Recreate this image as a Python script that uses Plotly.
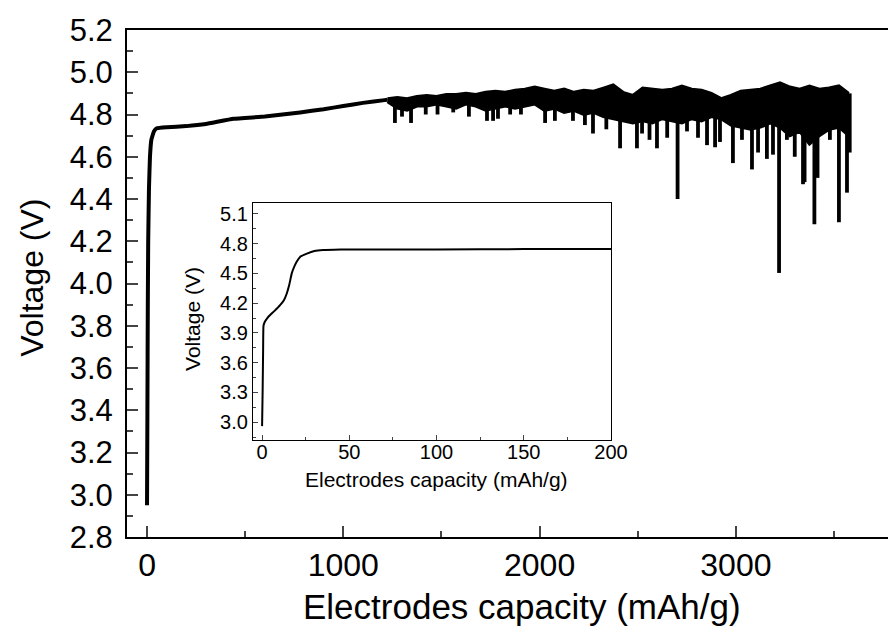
import numpy as np
import plotly.graph_objects as go

# ---------------- data ----------------
# smooth first part of the main charge curve
main_cap = [0, 2, 4, 6, 10, 15, 22, 35, 50, 100, 200, 300, 440, 600, 780, 900, 1000, 1100, 1210, 1225]
main_v = [2.95, 3.40, 3.90, 4.20, 4.45, 4.60, 4.68, 4.72, 4.735, 4.74, 4.745, 4.755, 4.78,
          4.79, 4.81, 4.825, 4.84, 4.855, 4.868, 4.87]

# noisy part: upper and lower edge of the dense band
band_cap = [1225, 1275, 1325, 1375, 1425, 1475, 1525, 1575, 1625, 1675, 1725, 1775,
            1825, 1875, 1925, 1975, 2025, 2075, 2125, 2175, 2225, 2275, 2325, 2375,
            2425, 2475, 2525, 2575, 2625, 2675, 2725, 2775, 2825, 2875, 2925, 2975,
            3025, 3075, 3125, 3175, 3225, 3275, 3325, 3375, 3425, 3475, 3525, 3575]
band_top = [4.875, 4.88, 4.875, 4.885, 4.89, 4.885, 4.895, 4.895, 4.90, 4.895, 4.905, 4.91,
            4.905, 4.915, 4.92, 4.93, 4.92, 4.91, 4.92, 4.905, 4.915, 4.91, 4.925, 4.94,
            4.905, 4.89, 4.925, 4.92, 4.915, 4.92, 4.935, 4.92, 4.915, 4.90, 4.875, 4.89,
            4.91, 4.915, 4.92, 4.935, 4.95, 4.93, 4.92, 4.935, 4.92, 4.925, 4.935, 4.90]
band_bot = [4.86, 4.83, 4.82, 4.84, 4.84, 4.85, 4.84, 4.83, 4.85, 4.84, 4.82, 4.83,
            4.84, 4.83, 4.84, 4.85, 4.82, 4.83, 4.81, 4.82, 4.80, 4.81, 4.79, 4.78,
            4.77, 4.76, 4.77, 4.76, 4.78, 4.77, 4.76, 4.78, 4.77, 4.79, 4.78, 4.75,
            4.74, 4.73, 4.74, 4.76, 4.74, 4.70, 4.72, 4.66, 4.70, 4.73, 4.74, 4.70]

# narrow downward spikes: capacity and lowest voltage
spike_cap = [1263, 1299, 1345, 1420, 1480, 1560, 1640, 1732, 1763, 1788, 1850, 1905,
             2028, 2078, 2170, 2231, 2272, 2340, 2410, 2496, 2522, 2560, 2598, 2650,
             2703, 2751, 2807, 2853, 2894, 2919, 2985, 3031, 3082, 3113, 3158, 3189,
             3220, 3260, 3300, 3342, 3350, 3400, 3416, 3479, 3525, 3566, 3580]
spike_v = [4.76, 4.79, 4.76, 4.80, 4.80, 4.81, 4.79, 4.77, 4.77, 4.78, 4.80, 4.80,
           4.76, 4.77, 4.77, 4.75, 4.71, 4.73, 4.64, 4.64, 4.71, 4.68, 4.64, 4.69,
           4.40, 4.72, 4.69, 4.655, 4.645, 4.67, 4.57, 4.68, 4.54, 4.62, 4.59, 4.61,
           4.05, 4.68, 4.60, 4.47, 4.48, 4.28, 4.50, 4.68, 4.29, 4.43, 4.62]

# inset: first 200 mAh/g
inset_cap = [0, 0.3, 0.6, 0.8, 1.5, 3, 4.6, 7, 10.3, 12.5, 14.2, 15.5, 17, 18.5,
             19.9, 22, 25.7, 30, 35, 45, 60, 100, 150, 200]
inset_v = [2.96, 3.30, 3.75, 3.97, 4.01, 4.05, 4.08, 4.12, 4.18, 4.23, 4.30, 4.38, 4.50,
           4.57, 4.62, 4.67, 4.70, 4.725, 4.735, 4.74, 4.742, 4.742, 4.745, 4.745]

main_xticks = [0, 1000, 2000, 3000]
main_yticks = [2.8, 3.0, 3.2, 3.4, 3.6, 3.8, 4.0, 4.2, 4.4, 4.6, 4.8, 5.0, 5.2]
inset_xticks = [0, 50, 100, 150, 200]
inset_yticks = [3.0, 3.3, 3.6, 3.9, 4.2, 4.5, 4.8, 5.1]

# ---------------- figure ----------------
FONT = "Liberation Sans, Arial, sans-serif"
fig = go.Figure()

fig.add_trace(go.Scatter(x=main_cap, y=main_v, mode="lines",
                         line=dict(color="black", width=4, shape="spline", smoothing=0.3),
                         showlegend=False))
fig.add_trace(go.Scatter(x=band_cap, y=band_top, mode="lines",
                         line=dict(color="black", width=3), showlegend=False))
fig.add_trace(go.Scatter(x=band_cap, y=band_bot, mode="lines", fill="tonexty",
                         fillcolor="black", line=dict(color="black", width=3),
                         showlegend=False))

sx, sy = [], []
spike_base = np.interp(spike_cap, band_cap, band_top)
for c, b, v in zip(spike_cap, spike_base, spike_v):
    sx += [c, c, None]
    sy += [b, v, None]
fig.add_trace(go.Scatter(x=sx, y=sy, mode="lines",
                         line=dict(color="black", width=3.8), showlegend=False))

fig.add_trace(go.Scatter(x=inset_cap, y=inset_v, mode="lines",
                         line=dict(color="black", width=2, shape="spline", smoothing=0.4),
                         showlegend=False, xaxis="x2", yaxis="y2"))

fig.update_layout(
    width=888, height=626, autosize=False,
    margin=dict(l=127, r=0, t=30, b=89, pad=0, autoexpand=False),
    paper_bgcolor="white", plot_bgcolor="white",
    font=dict(family=FONT, color="black"),
    xaxis=dict(range=[-102, 3775], tickvals=main_xticks, ticks="inside", automargin=False,
               ticklen=11, tickwidth=2, showline=True, linewidth=2,
               linecolor="black", mirror=True, showgrid=False, zeroline=False,
               tickfont=dict(size=32, family=FONT), ticklabelstandoff=-1,
               minor=dict(ticks="inside", ticklen=6, tickwidth=2, dtick=500,
                          tick0=0, showgrid=False)),
    yaxis=dict(range=[2.8, 5.2], tickvals=main_yticks, ticktext=[f"{v:.1f}" for v in main_yticks],
               ticks="inside", ticklen=11, tickwidth=2, showline=True, linewidth=2,
               linecolor="black", mirror=False, showgrid=False, zeroline=False,
               automargin=False,
               tickfont=dict(size=31, family=FONT), ticklabelstandoff=6,
               minor=dict(ticks="inside", ticklen=6, tickwidth=2, dtick=0.1,
                          tick0=2.8, showgrid=False)),
    xaxis2=dict(domain=[0.1656, 0.636], anchor="y2", range=[-5.2, 200],
                tickvals=inset_xticks, ticks="inside", ticklen=5, tickwidth=1,
                showline=True, linewidth=1.2, linecolor="black", mirror=True,
                showgrid=False, zeroline=False, tickfont=dict(size=20, family=FONT),
                ticklabelstandoff=-6, automargin=False,
                minor=dict(ticks="inside", ticklen=3, tickwidth=1, dtick=25,
                           tick0=0, showgrid=False)),
    yaxis2=dict(domain=[0.1913, 0.6588], anchor="x2", range=[2.82, 5.21],
                tickvals=inset_yticks, ticktext=[f"{v:.1f}" for v in inset_yticks],
                ticks="inside", ticklen=5, tickwidth=1,
                showline=True, linewidth=1.2, linecolor="black", mirror=True,
                showgrid=False, zeroline=False, tickfont=dict(size=20, family=FONT),
                ticklabelstandoff=0, automargin=False,
                minor=dict(ticks="inside", ticklen=3, tickwidth=1, dtick=0.15,
                           tick0=3.0, showgrid=False)),
    annotations=[
        dict(text="Electrodes capacity (mAh/g)", xref="paper", yref="paper",
             x=0.519, y=-0.094, xanchor="center", yanchor="top", showarrow=False,
             font=dict(size=35, family=FONT)),
        dict(text="Voltage (V)", xref="paper", yref="paper", textangle=-90,
             x=-0.125, y=0.511, xanchor="center", yanchor="middle", showarrow=False,
             font=dict(size=32, family=FONT)),
        dict(text="Electrodes capacity (mAh/g)", xref="paper", yref="paper",
             x=0.4067, y=0.14, xanchor="center", yanchor="top", showarrow=False,
             font=dict(size=21, family=FONT)),
        dict(text="Voltage (V)", xref="paper", yref="paper", textangle=-90,
             x=0.0867, y=0.43, xanchor="center", yanchor="middle", showarrow=False,
             font=dict(size=21, family=FONT)),
    ],
)

fig.write_html("out.html", config={"displayModeBar": False},
               post_script="document.body.style.margin='0';document.body.style.overflow='hidden';")
